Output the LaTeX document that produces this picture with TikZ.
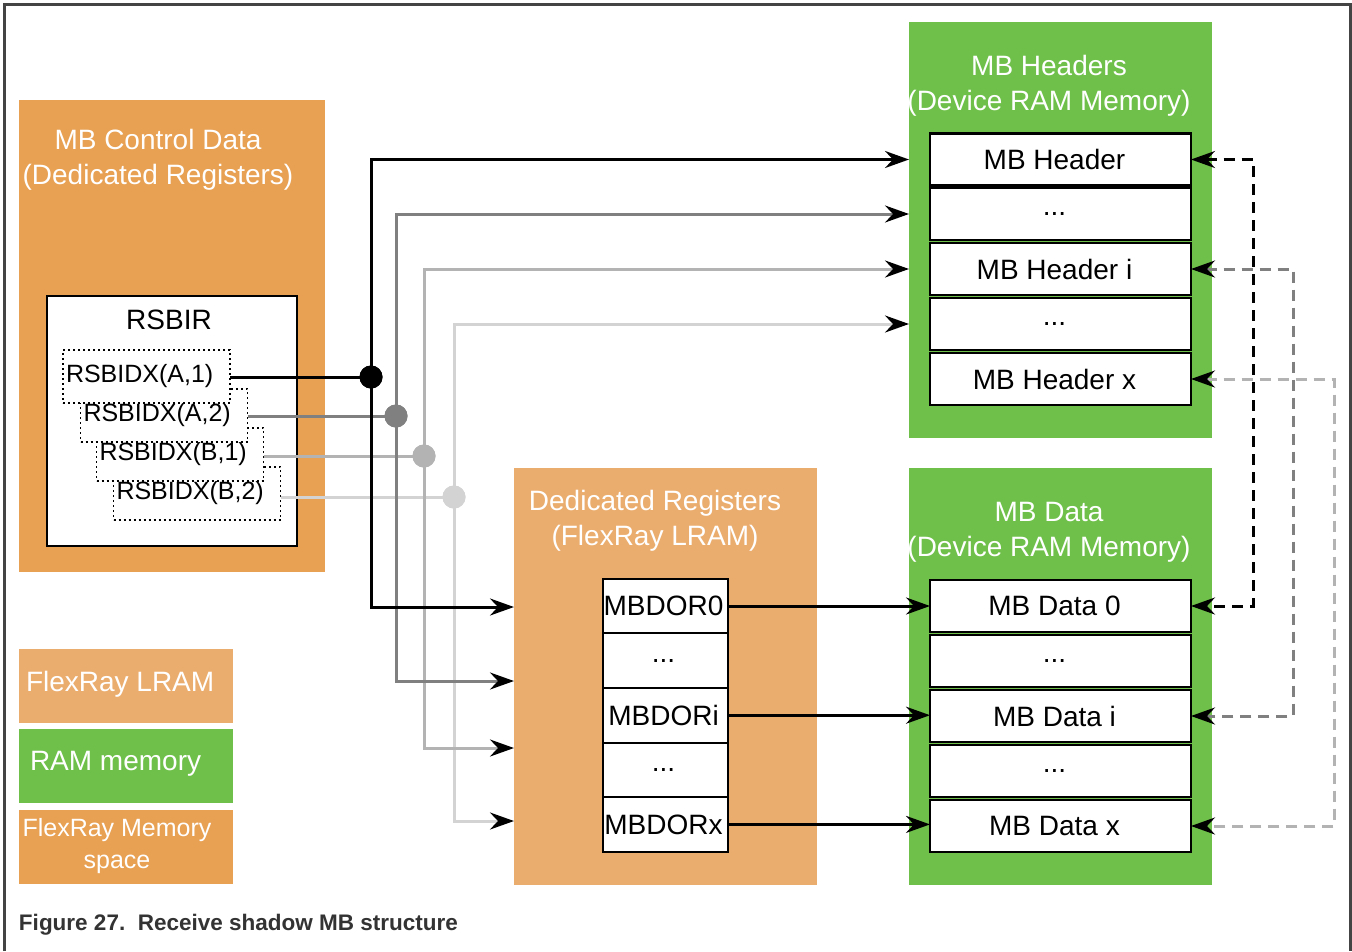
\documentclass[tikz,border=0pt]{standalone}
\usepackage{fontspec}
\setmainfont{Liberation Sans}
\usetikzlibrary{arrows.meta}
\definecolor{dorange}{HTML}{E8A052}
\definecolor{lorange}{HTML}{EBAD6E}
\definecolor{mgreen}{HTML}{6FC04A}
\definecolor{gtwo}{HTML}{808080}
\definecolor{gthree}{HTML}{B3B3B3}
\definecolor{gfour}{HTML}{D3D3D3}
\definecolor{framec}{HTML}{444444}
\definecolor{captc}{HTML}{333333}
\begin{document}
\begin{tikzpicture}[x=1pt,y=-1pt,
  every node/.style={font=\fontsize{28}{35}\selectfont, inner sep=0pt, outer sep=0pt},
  area/.style={rectangle, draw=none},
  ttl/.style={text=white, align=center},
  cellbox/.style={draw, line width=2.5, fill=white, minimum width=261, minimum height=52, execute at begin node=\hspace*{-12pt}},
  regbox/.style={draw, line width=2, fill=white, minimum width=125, minimum height=54.6, execute at begin node=\hspace*{-4pt}},
  dotbox/.style={draw, dash pattern=on 2 off 3, line width=1.8, fill=white, text width=161, align=left, inner xsep=3, minimum height=53, font=\fontsize{25}{30}\selectfont},
  dotnode/.style={circle, fill=#1, minimum size=23},
  conn/.style={draw=#1, line width=3},
  dsh/.style={draw=#1, line width=3, dash pattern=on 11 off 7},
  arr/.style={-{Stealth[length=24pt,width=17pt,inset=8pt,black]}},
  arrboth/.style={{Stealth[length=24pt,width=17pt,inset=8pt,black]}-{Stealth[length=24pt,width=17pt,inset=8pt,black]}}
]
\useasboundingbox (0,0) rectangle (1352,951);
\fill[white] (0,0) rectangle (1352,951);
\draw[line width=3, color=framec] (4,951) -- (4,4) -- (1350,4) -- (1350,951);

% areas
\node[area, fill=dorange, minimum width=306, minimum height=472] (ctl) at (172,336) {};
\node[area, fill=mgreen, minimum width=303, minimum height=416] (hdr) at (1060.5,230) {};
\node[area, fill=mgreen, minimum width=303, minimum height=417] (dat) at (1060.5,676.5) {};
\node[area, fill=lorange, minimum width=303, minimum height=417] (ded) at (665.5,676.5) {};

% titles
\node[ttl] (ctlT) at (158,160) {MB Control Data\\(Dedicated Registers)};
\node[ttl] (hdrT) at (1049,86) {MB Headers\\(Device RAM Memory)};
\node[ttl] (datT) at (1049,532) {MB Data\\(Device RAM Memory)};
\node[ttl] (dedT) at (655,521) {Dedicated Registers\\(FlexRay LRAM)};

% RSBIR
\node[draw, line width=2, fill=white, minimum width=250, minimum height=250] (rsbir) at (172,421) {};
\node (rsbirT) at (169,320) {RSBIR};
\node[dotbox] (x4) at (197,493.5) {RSBIDX(B,2)};
\node[dotbox] (x3) at (180,454.5) {RSBIDX(B,1)};
\node[dotbox] (x2) at (164,415.5) {RSBIDX(A,2)};
\node[dotbox] (x1) at (146.5,376.5) {RSBIDX(A,1)};

% header cells
\node[cellbox] (h0) at (1060.5,159.5) {MB Header};
\node[cellbox] (h1) at (1060.5,214) {...};
\node[cellbox] (h2) at (1060.5,269) {MB Header i};
\node[cellbox] (h3) at (1060.5,324) {...};
\node[cellbox] (h4) at (1060.5,379) {MB Header x};

% data cells
\node[cellbox] (b0) at (1060.5,606) {MB Data 0};
\node[cellbox] (b1) at (1060.5,661) {...};
\node[cellbox] (b2) at (1060.5,716) {MB Data i};
\node[cellbox] (b3) at (1060.5,771) {...};
\node[cellbox] (b4) at (1060.5,826) {MB Data x};

% MBDOR cells
\node[regbox] (m0) at (665.5,606) {MBDOR0};
\node[regbox] (m1) at (665.5,660.6) {...};
\node[regbox] (m2) at (665.5,715.2) {MBDORi};
\node[regbox] (m3) at (665.5,769.8) {...};
\node[regbox] (m4) at (665.5,824.4) {MBDORx};

% coordinates on the Dedicated Registers edge
\coordinate (e1) at (514,607);
\coordinate (e2) at (514,681);
\coordinate (e3) at (514,748);
\coordinate (e4) at (514,821);

% dots
\node[dotnode=gfour] (p4) at (454,497) {};
\node[dotnode=gthree] (p3) at (424,456) {};
\node[dotnode=gtwo] (p2) at (396,416) {};
\node[dotnode=black] (p1) at (371,377) {};

% connectors (lightest first)
\draw[conn=gfour] (x4.east |- p4) -- (p4.center);
\draw[conn=gfour, arr] (p4.center) |- (hdr.west |- h3);
\draw[conn=gfour, arr] (p4.center) |- (e4);
\node[dotnode=gfour] at (p4) {};

\draw[conn=gthree] (x3.east |- p3) -- (p3.center);
\draw[conn=gthree, arr] (p3.center) |- (hdr.west |- h2);
\draw[conn=gthree, arr] (p3.center) |- (e3);
\node[dotnode=gthree] at (p3) {};

\draw[conn=gtwo] (x2.east |- p2) -- (p2.center);
\draw[conn=gtwo, arr] (p2.center) |- (hdr.west |- h1);
\draw[conn=gtwo, arr] (p2.center) |- (e2);
\node[dotnode=gtwo] at (p2) {};

\draw[conn=black] (x1.east |- p1) -- (p1.center);
\draw[conn=black, arr] (p1.center) |- (hdr.west |- h0);
\draw[conn=black, arr] (p1.center) |- (e1);
\node[dotnode=black] at (p1) {};

% MBDOR -> MB Data
\draw[conn=black, arr] (m0.east) -- (m0.east -| b0.west);
\draw[conn=black, arr] (m2.east) -- (m2.east -| b2.west);
\draw[conn=black, arr] (m4.east) -- (m4.east -| b4.west);

% dashed links header <-> data
\coordinate (k1) at (1253,0);
\coordinate (k2) at (1293,0);
\coordinate (k3) at (1334,0);
\draw[dsh=gthree, arrboth] (h4.east) -- (h4.east -| k3) -- (b4.east -| k3) -- (b4.east);
\draw[dsh=gtwo, arrboth] (h2.east) -- (h2.east -| k2) -- (b2.east -| k2) -- (b2.east);
\draw[dsh=black, arrboth] (h0.east) -- (h0.east -| k1) -- (b0.east -| k1) -- (b0.east);

% legend
\node[area, fill=lorange, minimum width=214, minimum height=74] (lg1) at (126,686) {};
\node[text=white, anchor=west] (lg1T) at (26,684) {FlexRay LRAM};
\node[area, fill=mgreen, minimum width=214, minimum height=74] (lg2) at (126,766) {};
\node[text=white, anchor=west] (lg2T) at (30,764) {RAM memory};
\node[area, fill=dorange, minimum width=214, minimum height=74] (lg3) at (126,847) {};
\node[text=white, align=center, font=\fontsize{25}{32}\selectfont] (lg3T) at (117,846) {FlexRay Memory\\space};

% caption
\node[font=\bfseries\fontsize{22.5}{27}\selectfont, text=captc, anchor=base west] (cap) at (19,930) {Figure 27.\ \ Receive shadow MB structure};
\end{tikzpicture}
\end{document}
